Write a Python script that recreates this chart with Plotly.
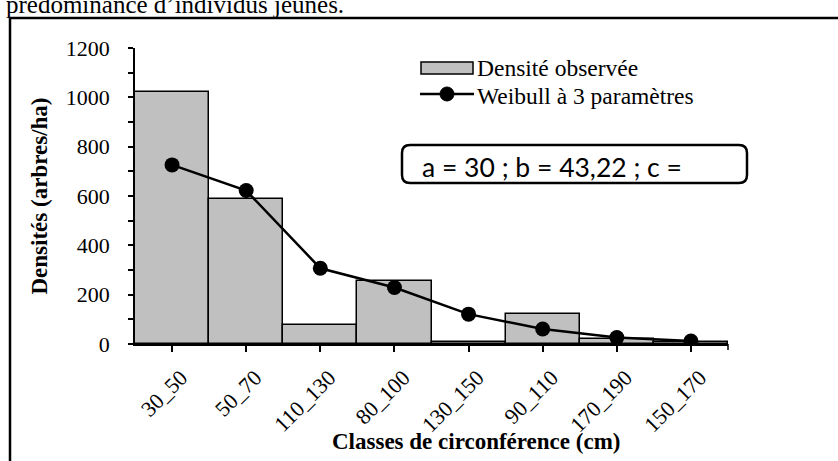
import plotly.graph_objects as go

categories = ["30_50", "50_70", "110_130", "80_100", "130_150", "90_110", "170_190", "150_170"]
observed = [1020, 587, 77, 255, 10, 120, 20, 10]
weibull = [726, 622, 307, 229, 121, 61, 26, 12]
y_ticks = [0, 200, 400, 600, 800, 1000, 1200]

W_PX, H_PX = 838, 461
L, R, T, B = 135, 728, 48, 344
PW, PH = R - L, B - T


def px(p):
    return (p - L) / PW


def py(p):
    return (B - p) / PH


SERIF = "Liberation Serif"

fig = go.Figure()
fig.add_trace(go.Bar(
    x=categories, y=observed, name="Densité observée",
    marker=dict(color="#c0c0c0", line=dict(color="black", width=1.5)),
    showlegend=False,
))
fig.add_trace(go.Scatter(
    x=categories, y=weibull, mode="lines+markers", name="Weibull à 3 paramètres",
    line=dict(color="black", width=2.5),
    marker=dict(color="black", size=15),
    showlegend=False,
))

shapes = []
annotations = []

# outer frame (left and top edges)
shapes.append(dict(type="line", xref="paper", yref="paper", x0=px(10), x1=px(10), y0=py(18), y1=py(470),
                   line=dict(color="black", width=2.5)))
shapes.append(dict(type="line", xref="paper", yref="paper", x0=px(9), x1=px(845), y0=py(18), y1=py(18),
                   line=dict(color="black", width=2.5)))

# right-end tick of the x axis
shapes.append(dict(type="line", xref="paper", yref="paper", x0=1, x1=1, y0=0, y1=py(350),
                   line=dict(color="black", width=1.5)))

# legend (manual)
shapes.append(dict(type="rect", xref="paper", yref="paper", x0=px(421), x1=px(473), y0=py(62), y1=py(74),
                   fillcolor="#c0c0c0", line=dict(color="black", width=1.5)))
annotations.append(dict(xref="paper", yref="paper", x=px(475), y=py(68), xanchor="left", yanchor="middle",
                        text="Densité observée", showarrow=False,
                        font=dict(family=SERIF, size=23.5, color="black")))
shapes.append(dict(type="line", xref="paper", yref="paper", x0=px(420), x1=px(474), y0=py(94), y1=py(94),
                   line=dict(color="black", width=2.5)))
shapes.append(dict(type="circle", xref="paper", yref="paper", x0=px(440), x1=px(454), y0=py(87), y1=py(101),
                   fillcolor="black", line=dict(color="black", width=1)))
annotations.append(dict(xref="paper", yref="paper", x=px(475), y=py(96), xanchor="left", yanchor="middle",
                        text="Weibull à 3 paramètres", showarrow=False,
                        font=dict(family=SERIF, size=23.5, color="black")))

# rounded parameter box
x0, x1, y0, y1, r = 402, 747, 145, 183, 8


def P(xp, yp):
    return f"{px(xp):.5f},{py(yp):.5f}"


path = (f"M {P(x0 + r, y0)} L {P(x1 - r, y0)} Q {P(x1, y0)} {P(x1, y0 + r)} "
        f"L {P(x1, y1 - r)} Q {P(x1, y1)} {P(x1 - r, y1)} L {P(x0 + r, y1)} "
        f"Q {P(x0, y1)} {P(x0, y1 - r)} L {P(x0, y0 + r)} Q {P(x0, y0)} {P(x0 + r, y0)} Z")
shapes.append(dict(type="path", xref="paper", yref="paper", path=path,
                   line=dict(color="black", width=2.5), fillcolor="white"))
annotations.append(dict(xref="paper", yref="paper", x=px(420), y=py(167), xanchor="left", yanchor="middle",
                        text="a = 30 ; b = 43,22 ; c =", showarrow=False,
                        font=dict(family="Lato", size=26.5, color="black")))

# top cut-off sentence
annotations.append(dict(xref="paper", yref="paper", x=px(4), y=py(20), xanchor="left", yanchor="bottom",
                        text="prédominance d’individus jeunes.", showarrow=False,
                        font=dict(family=SERIF, size=25, color="black")))

# x axis title
annotations.append(dict(xref="paper", yref="paper", x=px(476), y=py(441), xanchor="center", yanchor="middle",
                        text="<b>Classes de circonférence (cm)</b>", showarrow=False,
                        font=dict(family=SERIF, size=23, color="black")))

fig.update_layout(
    width=W_PX, height=H_PX,
    margin=dict(l=L, r=W_PX - R, t=T, b=H_PX - B, pad=0),
    paper_bgcolor="white", plot_bgcolor="white",
    bargap=0,
    shapes=shapes, annotations=annotations,
    font=dict(family=SERIF, color="black"),
)
fig.update_xaxes(
    type="category", range=[-0.5, 7.5], showline=True, linecolor="black", linewidth=2,
    ticks="outside", ticklen=6, tickwidth=1.5, tickcolor="black", tickangle=-45,
    tickfont=dict(family=SERIF, size=22, color="black"), showgrid=False, zeroline=False,
    ticklabelstandoff=4, ticklabelshift=9,
)
fig.update_yaxes(
    range=[0, 1200], tickvals=y_ticks, showline=True, linecolor="black", linewidth=1.5,
    ticks="outside", ticklen=5, tickwidth=1.5, tickcolor="black",
    minor=dict(dtick=100, ticks="outside", ticklen=5, tickwidth=1.5, tickcolor="black", showgrid=False),
    tickfont=dict(family=SERIF, size=22, color="black"), showgrid=False, zeroline=False,
    ticklabelstandoff=14,
    title=dict(text="<b>Densités (arbres/ha)</b>", font=dict(family=SERIF, size=23, color="black"), standoff=12),
)

fig.write_html("out.html", config={"displayModeBar": False},
               post_script="document.body.style.margin='0px';")
